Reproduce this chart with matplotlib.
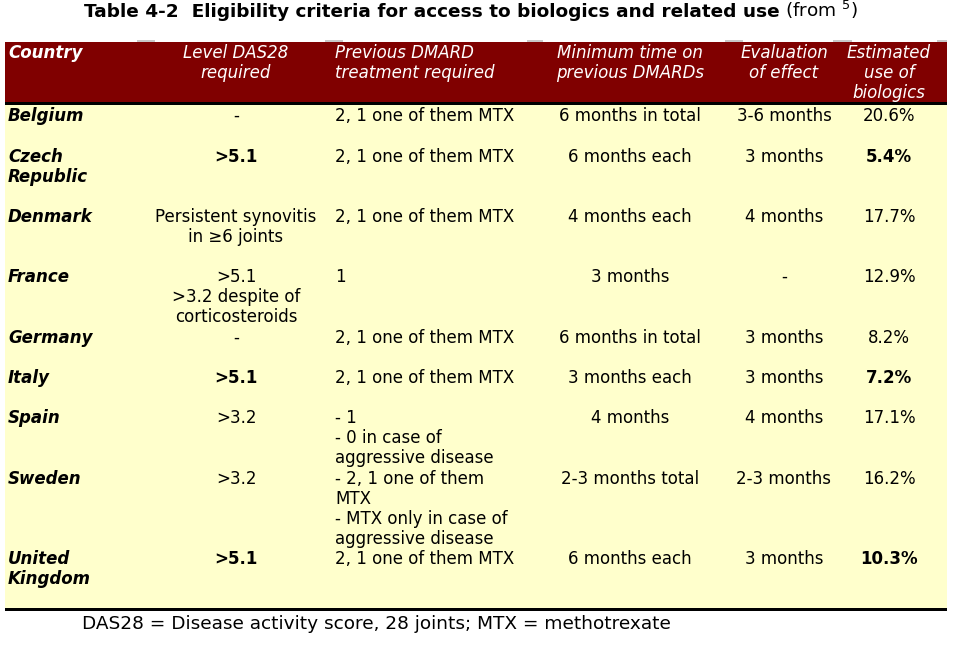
import matplotlib
matplotlib.use("Agg")
import matplotlib.pyplot as plt
from matplotlib.patches import Rectangle

plt.rcParams['font.family'] = ['DejaVu Sans']

title_bold = "Table 4-2  Eligibility criteria for access to biologics and related use"
title_normal = "(from $^{5}$)"
footnote = "DAS28 = Disease activity score, 28 joints; MTX = methotrexate"

headers = ["Country", "Level DAS28\nrequired", "Previous DMARD\ntreatment required",
           "Minimum time on\nprevious DMARDs", "Evaluation\nof effect", "Estimated\nuse of\nbiologics"]

countries = ["Belgium", "Czech\nRepublic", "Denmark", "France", "Germany", "Italy",
             "Spain", "Sweden", "United\nKingdom"]
das28 = ["-", ">5.1", "Persistent synovitis\nin \u22656 joints", ">5.1\n>3.2 despite of\ncorticosteroids",
         "-", ">5.1", ">3.2", ">3.2", ">5.1"]
prev_dmard = ["2, 1 one of them MTX", "2, 1 one of them MTX", "2, 1 one of them MTX", "1",
              "2, 1 one of them MTX", "2, 1 one of them MTX",
              "- 1\n- 0 in case of\naggressive disease",
              "- 2, 1 one of them\nMTX\n- MTX only in case of\naggressive disease",
              "2, 1 one of them MTX"]
min_time = ["6 months in total", "6 months each", "4 months each", "3 months",
            "6 months in total", "3 months each", "4 months", "2-3 months total", "6 months each"]
evaluation = ["3-6 months", "3 months", "4 months", "-", "3 months", "3 months",
              "4 months", "2-3 months", "3 months"]
est_use = ["20.6%", "5.4%", "17.7%", "12.9%", "8.2%", "7.2%", "17.1%", "16.2%", "10.3%"]
bold_cells = {"Czech\nRepublic", "Italy", "United\nKingdom"}

# layout (pixels)
W, H = 965, 648
row_y = [116, 157, 217, 277, 338, 378, 418, 479, 559]
col_x = [8, 236, 335, 630, 784, 889]
col_ha = ['left', 'center', 'left', 'center', 'center', 'center']
LS = 20
FS = 12

fig = plt.figure(figsize=(W / 100, H / 100), dpi=100)
ax = fig.add_axes([0, 0, 1, 1])
ax.set_xlim(0, W)
ax.set_ylim(H, 0)
ax.axis('off')

maroon = '#800000'
yellow = '#FFFFCC'
ax.add_patch(Rectangle((5, 42), 942, 61, color=maroon, lw=0))
ax.add_patch(Rectangle((5, 105), 942, 503, color=yellow, lw=0))
ax.add_patch(Rectangle((5, 102), 942, 3, color='black', lw=0))
ax.add_patch(Rectangle((5, 608), 942, 3, color='black', lw=0))
# faint column-boundary marks above header
for x0, x1 in [(137, 155), (325, 343), (527, 543), (725, 743), (833, 852), (937, 947)]:
    ax.add_patch(Rectangle((x0, 40), x1 - x0, 2, color='#c8c8c8', lw=0))

ax.text(780, 17, title_bold, ha='right', va='baseline', fontsize=13.3, fontweight='bold')
ax.text(785, 17, title_normal, ha='left', va='baseline', fontsize=13.3)

def draw_lines(x, y, txt, ha, **kw):
    for i, line in enumerate(txt.split("\n")):
        ax.text(x, y + i * LS, line, ha=ha, va='center', fontsize=FS, **kw)

for j, h in enumerate(headers):
    if j == 0:
        draw_lines(col_x[j], 53, h, col_ha[j], color='white', style='italic', fontweight='bold')
    else:
        draw_lines(col_x[j], 53, h, col_ha[j], color='white', style='italic')

cols = [countries, das28, prev_dmard, min_time, evaluation, est_use]
for i in range(len(countries)):
    for j, col in enumerate(cols):
        kw = {}
        if j == 0:
            kw = dict(style='italic', fontweight='bold')
        elif j in (1, 5) and countries[i] in bold_cells:
            kw = dict(fontweight='bold')
        draw_lines(col_x[j], row_y[i], col[i], col_ha[j], color='black', **kw)

ax.text(82, 624, footnote, ha='left', va='center', fontsize=13.3)

fig.savefig("out.png", dpi=100, facecolor='white')
